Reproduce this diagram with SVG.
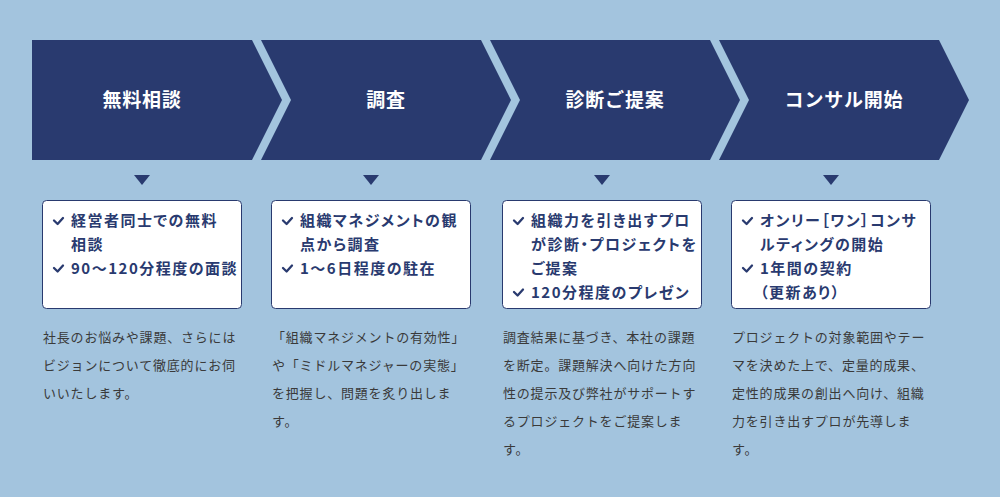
<svg xmlns="http://www.w3.org/2000/svg" width="1000" height="497" viewBox="0 0 1000 497">
<defs>
<style>
.bg{fill:#a3c4de}
.chev{fill:#293a6f}
.title{font-family:"Noto Sans CJK JP","Noto Sans",sans-serif;font-weight:700;font-size:19px;fill:#ffffff;text-anchor:middle;letter-spacing:0.8px}
.box{fill:#ffffff;stroke:#293a6f;stroke-width:1}
.item{font-family:"Noto Sans CJK JP","Noto Sans",sans-serif;font-weight:700;font-size:15px;fill:#293a6f;letter-spacing:1.5px;font-feature-settings:"palt" 1}
.desc{font-family:"Noto Sans CJK JP","Noto Sans",sans-serif;font-size:13px;fill:#3a3a3a;letter-spacing:0.8px}
.tri{fill:#293a6f}
</style>
<path id="chk" d="M0,2.5 L3.6,6 L9,0" fill="none" stroke="#293a6f" stroke-width="2.3" stroke-linecap="round" stroke-linejoin="round"/>
</defs>
<rect class="bg" x="0" y="0" width="1000" height="497"/>

<g id="step1">
<path class="chev" d="M32,40 H252 L282,100 L252,160 H32 Z"/>
<text class="title" x="142" y="107">無料相談</text>
</g>
<g id="step2">
<path class="chev" d="M261,40 H481 L511,100 L481,160 H261 L291,100 Z"/>
<text class="title" x="386" y="107">調査</text>
</g>
<g id="step3">
<path class="chev" d="M490,40 H710 L740,100 L710,160 H490 L520,100 Z"/>
<text class="title" x="615" y="107">診断ご提案</text>
</g>
<g id="step4">
<path class="chev" d="M719,40 H939 L969,100 L939,160 H719 L749,100 Z"/>
<text class="title" x="844" y="107">コンサル開始</text>
</g>

<g id="connectors">
<path class="tri" d="M134,175 H150 L142,185 Z"/>
<path class="tri" d="M363,175 H379 L371,185 Z"/>
<path class="tri" d="M594,175 H610 L602,185 Z"/>
<path class="tri" d="M823,175 H839 L831,185 Z"/>
</g>

<g id="box1">
<rect class="box" x="42.5" y="200.5" width="199" height="108" rx="4"/>
<use href="#chk" x="54" y="218"/>
<text class="item" x="71" y="226">経営者同士での無料</text>
<text class="item" x="71" y="250">相談</text>
<use href="#chk" x="54" y="265.5"/>
<text class="item" x="71" y="274">90〜120分程度の面談</text>
</g>
<g id="box2">
<rect class="box" x="271.5" y="200.5" width="199" height="108" rx="4"/>
<use href="#chk" x="283" y="218"/>
<text class="item" x="300" y="226">組織マネジメントの観</text>
<text class="item" x="300" y="250">点から調査</text>
<use href="#chk" x="283" y="265.5"/>
<text class="item" x="300" y="274">1〜6日程度の駐在</text>
</g>
<g id="box3">
<rect class="box" x="502.5" y="200.5" width="199" height="108" rx="4"/>
<use href="#chk" x="514" y="218"/>
<text class="item" x="531" y="226">組織力を引き出すプロ</text>
<text class="item" x="531" y="250">が診断・プロジェクトを</text>
<text class="item" x="531" y="274">ご提案</text>
<use href="#chk" x="514" y="289.5"/>
<text class="item" x="531" y="298">120分程度のプレゼン</text>
</g>
<g id="box4">
<rect class="box" x="731.5" y="200.5" width="199" height="108" rx="4"/>
<use href="#chk" x="743" y="218"/>
<text class="item" x="760" y="226">オンリー［ワン］コンサ</text>
<text class="item" x="760" y="250">ルティングの開始</text>
<use href="#chk" x="743" y="265.5"/>
<text class="item" x="760" y="274">1年間の契約</text>
<text class="item" x="760" y="298">（更新あり）</text>
</g>

<g id="desc1">
<text class="desc" x="43" y="342">社長のお悩みや課題、さらには</text>
<text class="desc" x="43" y="370">ビジョンについて徹底的にお伺</text>
<text class="desc" x="43" y="398">いいたします。</text>
</g>
<g id="desc2">
<text class="desc" x="272" y="342">「組織マネジメントの有効性」</text>
<text class="desc" x="272" y="370">や「ミドルマネジャーの実態」</text>
<text class="desc" x="272" y="398">を把握し、問題を炙り出しま</text>
<text class="desc" x="272" y="426">す。</text>
</g>
<g id="desc3">
<text class="desc" x="503" y="342">調査結果に基づき、本社の課題</text>
<text class="desc" x="503" y="370">を断定。課題解決へ向けた方向</text>
<text class="desc" x="503" y="398">性の提示及び弊社がサポートす</text>
<text class="desc" x="503" y="426">るプロジェクトをご提案しま</text>
<text class="desc" x="503" y="454">す。</text>
</g>
<g id="desc4">
<text class="desc" x="732" y="342">プロジェクトの対象範囲やテー</text>
<text class="desc" x="732" y="370">マを決めた上で、定量的成果、</text>
<text class="desc" x="732" y="398">定性的成果の創出へ向け、組織</text>
<text class="desc" x="732" y="426">力を引き出すプロが先導しま</text>
<text class="desc" x="732" y="454">す。</text>
</g>
</svg>
